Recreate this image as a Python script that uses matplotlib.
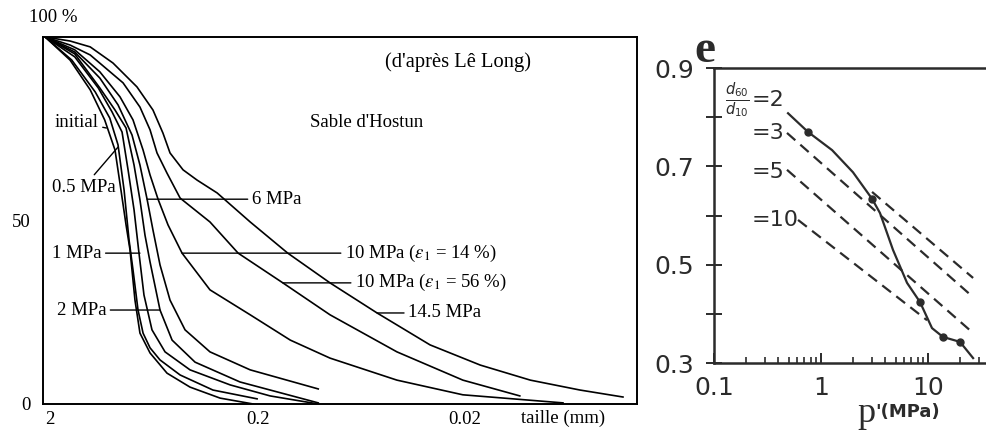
import numpy as np
import matplotlib.pyplot as plt
from matplotlib.ticker import FixedLocator, NullFormatter, NullLocator, LogLocator

serif = 'Liberation Serif'
sans = 'DejaVu Sans'

# ---- gradation curves, Sable d'Hostun (size in mm, % passing) ----
d_init = [2.11, 1.60, 1.28, 1.09, 0.972, 0.910, 0.860, 0.823, 0.779, 0.737, 0.659, 0.546, 0.423, 0.303, 0.210]
p_init = [100, 93.7, 85.6, 77.4, 69.2, 58.3, 48.8, 42.0, 28.3, 19.3, 13.9, 8.4, 4.6, 1.6, 0.0]

d_05 = [2.11, 1.57, 1.21, 1.03, 0.940, 0.879, 0.832, 0.796, 0.753, 0.712, 0.659, 0.590, 0.472, 0.328, 0.201]
p_05 = [100, 93.7, 85.0, 77.9, 70.6, 58.3, 44.7, 36.5, 25.6, 19.3, 15.3, 12.0, 7.9, 3.8, 1.4]

d_1 = [2.11, 1.52, 1.17, 1.005, 0.899, 0.841, 0.787, 0.745, 0.705, 0.645, 0.558, 0.423, 0.271, 0.174, 0.102]
p_1 = [100, 94.6, 86.1, 79.6, 74.1, 63.8, 52.9, 41.1, 29.7, 20.2, 14.2, 9.3, 5.2, 2.2, 0.0]

d_2 = [2.11, 1.52, 1.15, 0.972, 0.860, 0.787, 0.737, 0.697, 0.659, 0.590, 0.516, 0.400, 0.243, 0.102]
p_2 = [100, 95.4, 86.1, 80.1, 75.2, 65.1, 55.6, 46.0, 38.7, 25.6, 17.4, 11.4, 6.0, 0.3]

d_6 = [2.11, 1.52, 1.15, 0.940, 0.805, 0.737, 0.681, 0.638, 0.590, 0.528, 0.447, 0.339, 0.217, 0.102]
p_6 = [100, 95.9, 88.8, 81.5, 73.3, 65.1, 55.8, 47.4, 37.9, 28.3, 20.2, 14.2, 9.3, 4.1]

d_10a = [2.11, 1.52, 1.15, 0.920, 0.796, 0.712, 0.659, 0.603, 0.540, 0.462, 0.339, 0.217, 0.139, 0.0895, 0.0426, 0.0205, 0.00675]
p_10a = [100, 96.5, 90.5, 83.7, 77.4, 69.2, 62.4, 55.8, 48.8, 41.1, 31.1, 24.3, 17.4, 12.5, 6.5, 2.5, 0.3]

d_10b = [2.11, 1.60, 1.28, 0.889, 0.737, 0.659, 0.610, 0.546, 0.472, 0.339, 0.248, 0.151, 0.0895, 0.0426, 0.0205, 0.0109]
p_10b = [100, 97.8, 95.1, 87.5, 80.9, 74.7, 68.4, 62.9, 56.1, 49.6, 41.1, 33.0, 24.3, 14.2, 6.5, 2.2]

d_145 = [2.11, 1.60, 1.28, 0.994, 0.762, 0.638, 0.571, 0.528, 0.457, 0.391, 0.313, 0.217, 0.143, 0.0895,
         0.0531, 0.0295, 0.0169, 0.0097, 0.00559, 0.00347]
p_145 = [100, 98.9, 97.3, 92.9, 86.4, 80.1, 73.8, 68.4, 63.8, 61.0, 57.5, 49.6, 41.1, 33.0,
         24.8, 16.1, 10.6, 6.5, 3.8, 1.9]

curves = [(d_init, p_init), (d_05, p_05), (d_1, p_1), (d_2, p_2), (d_6, p_6),
          (d_10a, p_10a), (d_10b, p_10b), (d_145, p_145)]

# ---- void ratio vs mean stress ----
p_line = [0.492, 0.756, 1.27, 1.99, 3.0, 3.56, 4.71, 6.37, 8.42, 10.9, 13.8, 19.9, 26.4]
e_line = [0.808, 0.770, 0.733, 0.688, 0.634, 0.605, 0.530, 0.463, 0.424, 0.371, 0.353, 0.343, 0.310]
p_pts = [0.756, 3.0, 8.42, 13.8, 19.9]
e_pts = [0.770, 0.634, 0.424, 0.353, 0.343]

ratios = ['=2', '=3', '=5', '=10']
p_start = [3.0, 0.481, 0.481, 0.61]
e_start = [0.648, 0.768, 0.693, 0.591]
p_end = [26.4, 26.4, 26.4, 9.8]
e_end = [0.473, 0.434, 0.361, 0.387]
e_ratio_lbl = [0.835, 0.768, 0.688, 0.591]

fig = plt.figure(figsize=(9.87, 4.30), dpi=100)

# ================= left panel =================
ax = fig.add_axes([0.0436, 0.0605, 0.6018, 0.8535])
ax.set_xscale('log')
ax.set_xlim(2.16, 0.00297)
ax.set_ylim(0, 100)
for d, p in curves:
    ax.plot(d, p, color='black', lw=1.2, solid_joinstyle='round')

for s in ax.spines.values():
    s.set_linewidth(1.4)
ax.set_xticks([2, 0.2, 0.02])
ax.set_xticklabels(['2', '0.2', '0.02'])
ax.xaxis.set_minor_locator(NullLocator())
ax.set_yticks([0, 50])
ax.set_yticklabels(['0', '50'])
ax.tick_params(length=0, labelsize=13.5)
ax.tick_params(axis='y', pad=9)
ax.tick_params(axis='x', pad=5)
for lbl in ax.get_xticklabels() + ax.get_yticklabels():
    lbl.set_family(serif)

fs = 13.5
ax.text(1.93, 105.4, '100 %', family=serif, fontsize=fs, ha='center', va='center', clip_on=False)
ax.text(0.00675, -3.8, 'taille (mm)', family=serif, fontsize=fs, ha='center', va='center', clip_on=False)
ax.text(0.0486, 93.2, "(d'après Lê Long)", family=serif, fontsize=14.8, ha='left', va='center')
ax.text(0.112, 76.6, "Sable d'Hostun", family=serif, fontsize=fs, ha='left', va='center')

arrow = dict(arrowstyle='-', lw=1.0, color='black', shrinkA=1, shrinkB=0)
labels = [
    ('initial', (1.07, 75.2), (1.90, 76.8)),
    ('0.5 MPa', (0.940, 70.0), (1.96, 59.1)),
    ('1 MPa', (0.737, 41.1), (1.96, 41.1)),
    ('2 MPa', (0.590, 25.6), (1.86, 25.6)),
    ('6 MPa', (0.681, 55.8), (0.213, 55.8)),
    (r'10 MPa ($\varepsilon_1$ = 14 %)', (0.462, 41.1), (0.0758, 41.1)),
    (r'10 MPa ($\varepsilon_1$ = 56 %)', (0.151, 33.0), (0.0678, 33.0)),
    ('14.5 MPa', (0.0531, 24.8), (0.0376, 24.8)),
]
for txt, tip, pos in labels:
    ax.annotate(txt, xy=tip, xytext=pos, family=serif, fontsize=fs, ha='left', va='center',
                math_fontfamily='stix', arrowprops=arrow)

# ================= right panel =================
ink = '#2b2b2b'
ax2 = fig.add_axes([0.7234, 0.1558, 0.2766, 0.686])
ax2.set_xscale('log')
ax2.set_xlim(0.1, 35.6)
ax2.set_ylim(0.3, 0.9)
ax2.spines['right'].set_visible(False)
for s in ax2.spines.values():
    s.set_linewidth(1.8)
    s.set_color(ink)

ax2.plot(p_line, e_line, color=ink, lw=1.6)
ax2.plot(p_pts, e_pts, 'o', color=ink, ms=5)
for ps, es, pe, ee in zip(p_start, e_start, p_end, e_end):
    ax2.plot([ps, pe], [es, ee], color=ink, lw=1.6, dashes=(5, 3))

ax2.set_yticks([0.3, 0.5, 0.7, 0.9])
ax2.set_yticklabels(['0.3', '0.5', '0.7', '0.9'])
ax2.yaxis.set_minor_locator(FixedLocator([0.4, 0.6, 0.8]))
ax2.set_xticks([0.1, 1, 10])
ax2.set_xticklabels(['0.1', '1', '10'])
ax2.xaxis.set_minor_locator(LogLocator(base=10, subs=np.arange(2, 10)))
ax2.xaxis.set_minor_formatter(NullFormatter())
ax2.tick_params(axis='y', which='both', direction='inout', length=11, width=1.4,
                color=ink, labelsize=18, pad=9, labelcolor=ink)
ax2.tick_params(axis='x', which='major', direction='in', length=7, width=1.4,
                color=ink, labelsize=18, pad=9, labelcolor=ink)
ax2.tick_params(axis='x', which='minor', direction='in', length=4, width=1.2, color=ink)
for lbl in ax2.get_xticklabels() + ax2.get_yticklabels():
    lbl.set_family(sans)

ax2.text(-0.032, 1.02, 'e', transform=ax2.transAxes, family=serif, fontsize=34,
         fontweight='bold', color=ink, ha='center', va='baseline')
ax2.text(0.164, e_ratio_lbl[0], r'$\frac{d_{60}}{d_{10}}$', family=sans, fontsize=15,
         math_fontfamily='dejavusans', color=ink, ha='center', va='center')
for r, e in zip(ratios, e_ratio_lbl):
    ax2.text(0.2265, e, r, family=sans, fontsize=16, color=ink, ha='left', va='center')

ax2.text(0.59, -0.17, 'p', transform=ax2.transAxes, family=serif, fontsize=26,
         color=ink, ha='right', va='center')
ax2.text(0.59, -0.165, "'(MPa)", transform=ax2.transAxes, family=sans, fontsize=13,
         fontweight='bold', color=ink, ha='left', va='center')

fig.savefig('out.png', dpi=100)
